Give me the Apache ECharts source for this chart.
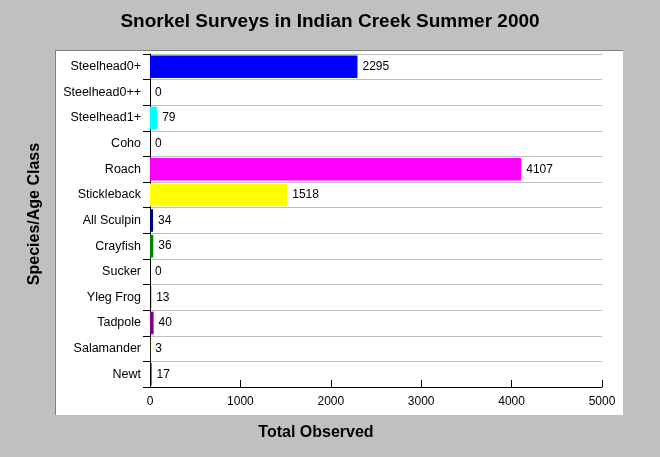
<!DOCTYPE html>
<html><head><meta charset="utf-8">
<script src="https://cdn.jsdelivr.net/npm/echarts@6/dist/echarts.min.js"></script>
<style>html,body{margin:0;padding:0;background:#c0c0c0}#c{width:660px;height:457px}</style>
</head><body><div id="c"></div>
<script>
var categories = ['Steelhead0+','Steelhead0++','Steelhead1+','Coho','Roach','Stickleback','All Sculpin','Crayfish','Sucker','Yleg Frog','Tadpole','Salamander','Newt'];
var values = [2295, 0, 79, 0, 4107, 1518, 34, 36, 0, 13, 40, 3, 17];
var colors = ['#0000ff','#ff0000','#00ffff','#008080','#ff00ff','#ffff00','#000080','#008000','#800000','#000000','#800080','#808000','#000000'];
var xTicks = [0, 1000, 2000, 3000, 4000, 5000];

var chart = echarts.init(document.getElementById('c'), null, {renderer:'canvas'});
var font = 'Arial, "Liberation Sans", sans-serif';
chart.setOption({
  backgroundColor: '#c0c0c0',
  animation: false,
  graphic: [
    {type:'rect', z:-10, shape:{x:55,y:50,width:568,height:365}, style:{fill:'#ffffff'}},
    {type:'line', z:-9, shape:{x1:55.5,y1:50,x2:55.5,y2:415}, style:{stroke:'#808080',lineWidth:1}},
    {type:'line', z:-9, shape:{x1:55,y1:50.5,x2:623,y2:50.5}, style:{stroke:'#808080',lineWidth:1}},
    {type:'text', left:'center', top:12, style:{text:'Snorkel Surveys in Indian Creek Summer 2000', font:'bold 19px '+font, fill:'#000'}},
    {type:'text', x:316, y:433, style:{text:'Total Observed', font:'bold 16px '+font, fill:'#000', textAlign:'center', textVerticalAlign:'middle'}},
    {type:'text', x:35, y:214, rotation:Math.PI/2, style:{text:'Species/Age Class', font:'bold 16px '+font, fill:'#000', textAlign:'center', textVerticalAlign:'middle'}}
  ],
  grid: {left:150, right:58, top:54, bottom:70, containLabel:false},
  xAxis: {
    type:'value', min:xTicks[0], max:xTicks[xTicks.length-1], interval:1000,
    axisLine:{show:true, lineStyle:{color:'#000', width:1}},
    axisTick:{show:true, inside:true, length:7, lineStyle:{color:'#000'}},
    splitLine:{show:false},
    axisLabel:{color:'#000', fontSize:12, fontFamily:font, margin:9, formatter:function(v){return String(v);}}
  },
  yAxis: {
    type:'category', data:categories, inverse:true,
    axisLine:{show:true, lineStyle:{color:'#000', width:1}},
    axisTick:{show:true, length:7, lineStyle:{color:'#000'}},
    splitLine:{show:true, lineStyle:{color:'#c0c0c0', width:1}},
    axisLabel:{color:'#000', fontSize:12.5, fontFamily:font, margin:9, interval:0}
  },
  series: [{
    type:'bar', barWidth:'88%',
    data: values.map(function(v,i){return {value:v, itemStyle:{color:colors[i]}};}),
    label:{show:true, position:'right', distance:5, color:'#000', fontSize:12, fontFamily:font}
  }]
});
</script></body></html>
